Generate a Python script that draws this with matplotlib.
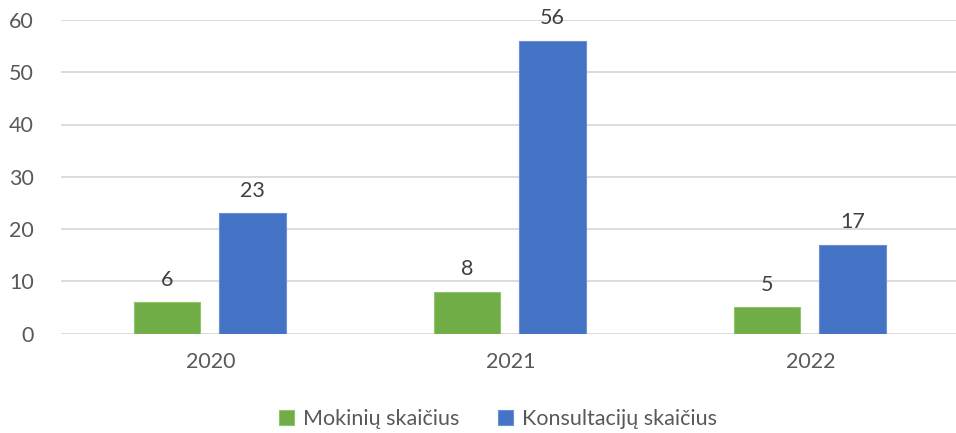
import matplotlib
matplotlib.use("Agg")
import matplotlib.pyplot as plt
import numpy as np

categories = ["2020", "2021", "2022"]
series_names = ["Mokinių skaičius", "Konsultacijų skaičius"]
mokiniai = [6, 8, 5]
konsultacijos = [23, 56, 17]
y_ticks = [0, 10, 20, 30, 40, 50, 60]

plt.rcParams['font.family'] = ['Lato', 'DejaVu Sans']

fig = plt.figure(figsize=(9.56, 4.33), dpi=100)
ax = fig.add_axes([60.5/956, (433-333.5)/433, 900/956, (333.5-20)/433])

x = np.arange(len(categories))
w = 0.223
green = "#70AD47"
blue = "#4472C4"
b1 = ax.bar(x - 0.145, mokiniai, w, color=green, edgecolor="#8fc46a", linewidth=0.8, label=series_names[0], zorder=3)
b2 = ax.bar(x + 0.140, konsultacijos, w, color=blue, edgecolor="#6a8fd6", linewidth=0.8, label=series_names[1], zorder=3)

for bars in (b1, b2):
    ax.bar_label(bars, padding=9, fontsize=15.5, color="#404040")

ax.set_xlim(-0.5, 2.5)
ax.set_ylim(0, 60)
ax.set_yticks(y_ticks)
ax.set_xticks(x)
ax.set_xticklabels(categories)
ax.tick_params(axis='both', length=0, labelsize=15.5, labelcolor="#595959")
ax.tick_params(axis='y', pad=19)
ax.tick_params(axis='x', pad=13)
ax.grid(axis='y', color="#d9d9d9", linewidth=1.3, zorder=0)
for s in ax.spines.values():
    s.set_visible(False)

ax.legend(loc='center', bbox_to_anchor=(0.521, (433-419)/433), bbox_transform=fig.transFigure,
          ncol=2, frameon=False, fontsize=15.5, labelcolor="#595959",
          handlelength=0.7, handleheight=0.7, handletextpad=0.4, columnspacing=1.8)

fig.savefig("out.png", dpi=100)
